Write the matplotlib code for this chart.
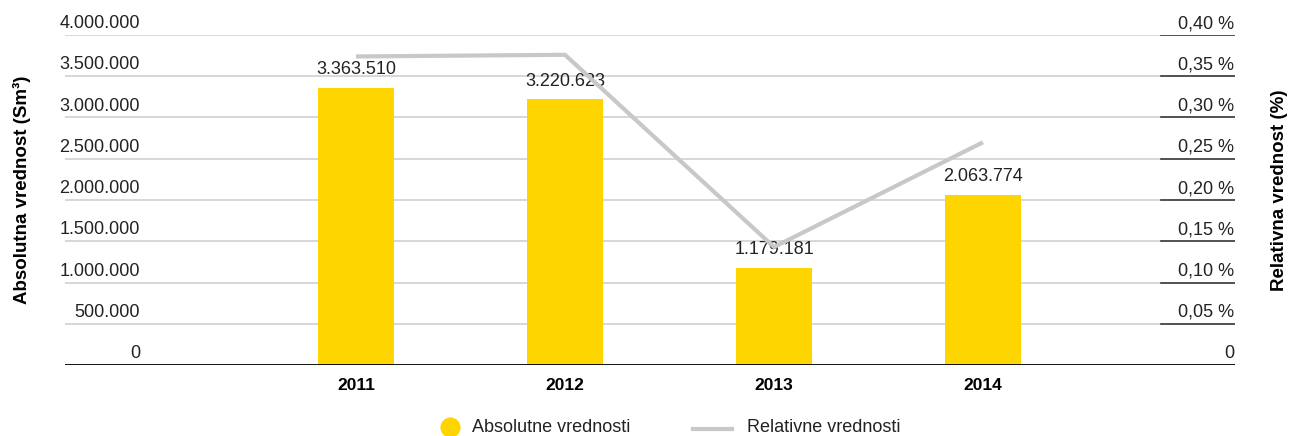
import numpy as np
import matplotlib.pyplot as plt
from matplotlib.lines import Line2D
from matplotlib import font_manager

# 字体: 窄体不可用时用 Liberation Sans
names = {f.name for f in font_manager.fontManager.ttflist}
fam = 'Liberation Sans Narrow' if 'Liberation Sans Narrow' in names else 'Liberation Sans'
plt.rcParams['font.family'] = [fam, 'DejaVu Sans']
narrow = fam == 'Liberation Sans Narrow'
fs = 14 if narrow else 13

# 数据
godine = ['2011', '2012', '2013', '2014']
apsolutne = [3363510, 3220623, 1179181, 2063774]
relativne = [0.374, 0.376, 0.143, 0.270]
labele_bar = ['3.363.510', '3.220.623', '1.179.181', '2.063.774']
levi_tick = [0, 500000, 1000000, 1500000, 2000000, 2500000, 3000000, 3500000, 4000000]
levi_txt = ['0', '500.000', '1.000.000', '1.500.000', '2.000.000', '2.500.000',
            '3.000.000', '3.500.000', '4.000.000']
desni_txt = ['0', '0,05 %', '0,10 %', '0,15 %', '0,20 %', '0,25 %', '0,30 %', '0,35 %', '0,40 %']
legenda = ['Absolutne vrednosti', 'Relativne vrednosti']

zuta = '#FFD500'
siva = '#c8c8c8'

fig = plt.figure(figsize=(12.91, 4.36), dpi=100)
W, H = 1291, 436
ax = fig.add_axes([65 / W, 71 / H, 1170 / W, 330 / H])
ax2 = ax.twinx()

x = np.arange(len(godine))
ax.bar(x, apsolutne, width=76 / 209, color=zuta, zorder=2)
for xi, v, t in zip(x, apsolutne, labele_bar):
    ax.annotate(t, (xi, v), xytext=(0, 7), textcoords='offset points',
                ha='center', va='bottom', fontsize=fs, color='#222222')

ax2.plot(x, relativne, color=siva, lw=3, zorder=3, solid_capstyle='butt')

x0 = (65 - 356) / 209
x1 = (1235 - 356) / 209
ax.set_xlim(x0, x1)
ax.set_ylim(0, 4000000)
ax2.set_ylim(0, 0.40)

# 网格线 + 右侧深色短线
gx = (1161 - 65) / 1170
for yv in levi_tick[1:]:
    ax.axhline(yv, xmin=0, xmax=gx, color='#d4d4d4', lw=1.3, zorder=1)
    ax.axhline(yv, xmin=gx, xmax=1, color='#222222', lw=1.1, zorder=1)
ax.axhline(0, color='black', lw=1.3, zorder=4)

# 刻度文字 (在线上方)
tr = ax.get_yaxis_transform()
for yv, tl, tr_txt in zip(levi_tick, levi_txt, desni_txt):
    ax.annotate(tl, (75 / 1170, yv), xycoords=tr, xytext=(0, 2), textcoords='offset points',
                ha='right', va='bottom', fontsize=fs, color='#222222')
    ax.annotate(tr_txt, (1169 / 1170, yv), xycoords=tr, xytext=(0, 2), textcoords='offset points',
                ha='right', va='bottom', fontsize=fs, color='#222222')

ax.set_yticks([])
ax2.set_yticks([])
ax.set_xticks(x)
ax.set_xticklabels(godine, fontsize=fs - 0.5, fontweight='bold')
ax.tick_params(axis='x', length=0, pad=9)
for a in (ax, ax2):
    for s in a.spines.values():
        s.set_visible(False)

fig.text(22 / W, 1 - 190 / H, 'Absolutna vrednost (Sm³)', rotation=90, ha='center', va='center',
         fontsize=fs + 0.5, fontweight='bold')
fig.text(1279 / W, 1 - 190 / H, 'Relativna vrednost (%)', rotation=90, ha='center', va='center',
         fontsize=fs + 0.5, fontweight='bold')

# 图例 (手动摆放)
ly = 1 - 427 / H
fig.add_artist(Line2D([450 / W], [ly], marker='o', color=zuta, ls='none', markersize=13.5))
fig.text(472 / W, ly, legenda[0], ha='left', va='center', fontsize=fs, color='#222222')
fig.add_artist(Line2D([693 / W, 732 / W], [1 - 429 / H] * 2, color=siva, lw=3))
fig.text(747 / W, ly, legenda[1], ha='left', va='center', fontsize=fs, color='#222222')

fig.savefig('out.png', dpi=100)
